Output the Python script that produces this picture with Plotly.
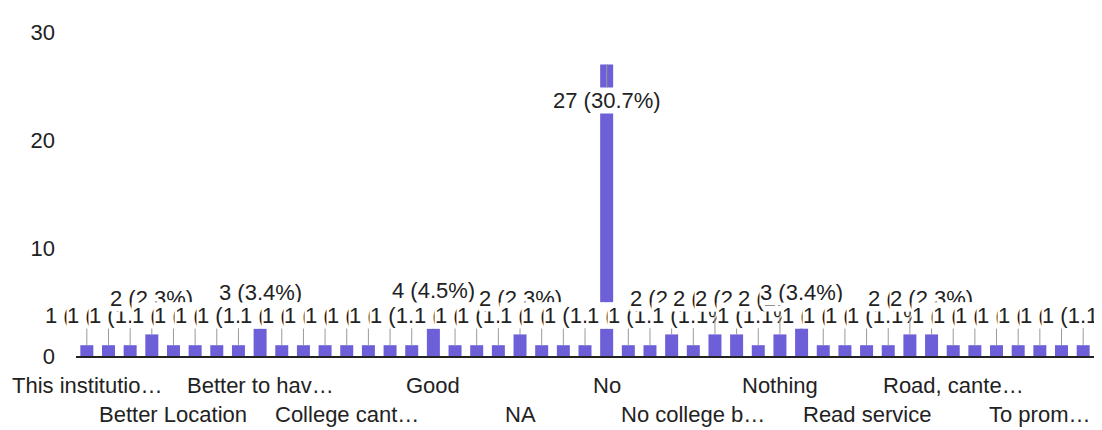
import plotly.graph_objects as go

# response counts per answer, in the order shown on the axis (alphabetical)
counts = [1, 1, 1, 2, 1, 1, 1, 1, 3, 1, 1, 1, 1, 1, 1, 1, 4, 1, 1, 1, 2, 1, 1, 1,
          27, 1, 1, 2, 1, 2, 2, 1, 2, 3, 1, 1, 1, 1, 2, 2, 1, 1, 1, 1, 1, 1, 1]

# only every 4th answer gets a visible label, alternating between two rows
tick_labels = ["This institutio…", "Better Location", "Better to hav…", "College cant…",
               "Good", "NA", "No", "No college b…", "Nothing", "Read service",
               "Road, cante…", "To prom…"]

total = sum(counts)
x = list(range(len(counts)))
bar_color = "#6d5fd8"
font = "Arial, Liberation Sans, sans-serif"

fig = go.Figure()
fig.add_trace(go.Bar(x=x, y=counts, marker_color=bar_color, marker_line_width=0, hoverinfo="skip"))

# data labels with stems, like Google Forms draws them
stem = {1: -30, 2: -36, 3: -31, 4: -22}
for i, v in enumerate(counts):
    fig.add_annotation(
        x=i, y=v,
        text=f"{v} ({v / total * 100:.1f}%)",
        showarrow=True, arrowhead=0, arrowwidth=1, arrowcolor="#9a9a9a",
        ax=0, ay=stem.get(v, 36),
        bgcolor="white", borderpad=0,
        font=dict(size=22, color="#222", family=font),
    )

# category labels in two staggered rows
for k, lab in enumerate(tick_labels):
    fig.add_annotation(
        x=k * 4, y=0, xref="x", yref="paper",
        text=lab, showarrow=False, yanchor="middle",
        yshift=-29 if k % 2 == 0 else -58,
        font=dict(size=22, color="#222", family=font),
    )

# page body adds an 8px margin, so the margins here are trimmed by that
fig.update_layout(
    width=1102, height=430,
    margin=dict(l=68, r=16, t=14, b=82),
    plot_bgcolor="white", paper_bgcolor="white",
    showlegend=False, bargap=0.4,
    font=dict(family=font, size=22, color="#222"),
)
fig.update_xaxes(range=[-0.5, 46.5], showticklabels=False, showgrid=False, zeroline=False,
                 showline=True, linecolor="#222", linewidth=2, ticks="")
fig.update_yaxes(range=[0, 30], tickvals=[0, 10, 20, 30], showgrid=False, zeroline=False,
                 ticks="", ticklabelstandoff=20, tickfont=dict(size=22, color="#222"))

fig.write_html("out.html")
